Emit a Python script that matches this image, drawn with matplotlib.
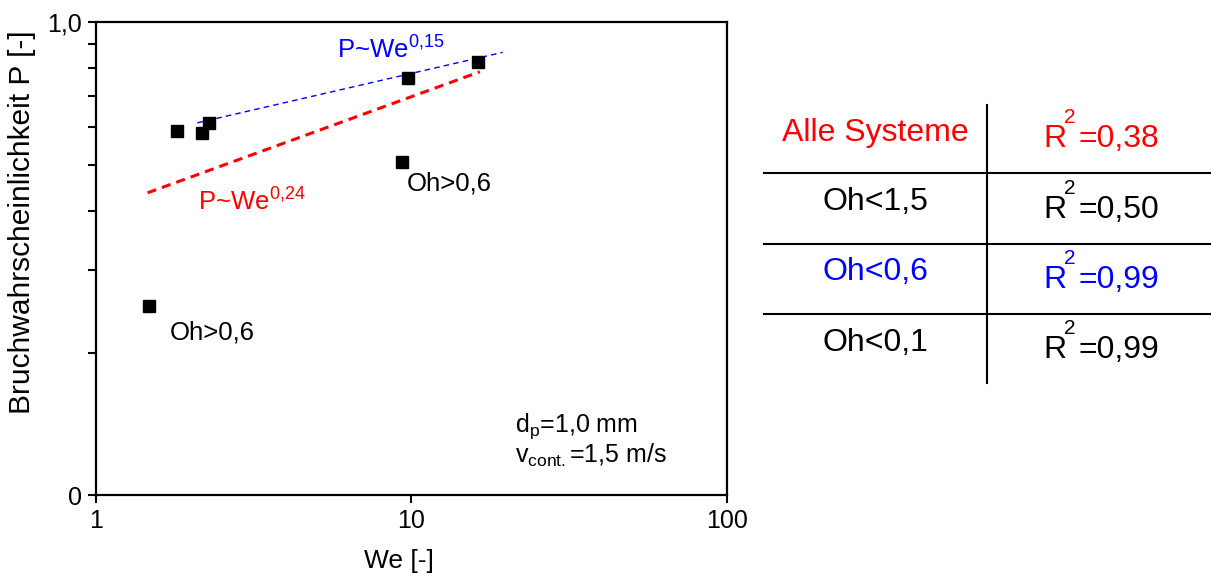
import matplotlib
matplotlib.use("Agg")
import matplotlib.pyplot as plt
from matplotlib.ticker import FixedLocator, FixedFormatter, NullFormatter

plt.rcParams['font.family'] = ['Liberation Sans', 'DejaVu Sans']
plt.rcParams['mathtext.fontset'] = 'custom'
plt.rcParams['mathtext.rm'] = 'Liberation Sans'
plt.rcParams['mathtext.it'] = 'Liberation Sans:italic'
plt.rcParams['mathtext.bf'] = 'Liberation Sans:bold'

# ---- data ----
we_values = [1.48, 1.81, 2.18, 2.29, 9.33, 9.75, 16.3]
p_values = [0.251, 0.589, 0.584, 0.612, 0.506, 0.762, 0.825]

blue_fit_we = [2.10, 19.5]
blue_fit_p = [0.613, 0.864]
red_fit_we = [1.46, 16.5]
red_fit_p = [0.436, 0.786]

x_ticks = [1, 10, 100]
x_ticklabels = ["1", "10", "100"]
y_major = [0.1, 1.0]
y_major_labels = ["0", "1,0"]
y_minor = [0.2, 0.3, 0.4, 0.5, 0.6, 0.7, 0.8, 0.9]

table_labels = ["Alle Systeme", "Oh<1,5", "Oh<0,6", "Oh<0,1"]
table_r2 = ["=0,38", "=0,50", "=0,99", "=0,99"]
table_colors = ["#ff0000", "#000000", "#0000ff", "#000000"]

W, H = 1211, 579
fig = plt.figure(figsize=(W / 100, H / 100), dpi=100)

def fx(px):
    return px / W

def fy(py):
    return 1 - py / H

ax_l, ax_r, ax_t, ax_b = 95.7, 726.7, 22.3, 495.3
ax = fig.add_axes([fx(ax_l), fy(ax_b), (ax_r - ax_l) / W, (ax_b - ax_t) / H])
ax.set_xscale('log')
ax.set_yscale('log')
ax.set_xlim(1, 100)
ax.set_ylim(0.1, 1.0)

ax.plot(blue_fit_we, blue_fit_p, color='#0000ff', lw=1.0, ls=(0, (4, 3)), zorder=2)
ax.plot(red_fit_we, red_fit_p, color='#ff0000', lw=2.2, ls=(0, (3, 2)), zorder=2)
ax.plot(we_values, p_values, ls='none', marker='s', ms=8.5, color='black', zorder=3)

ax.xaxis.set_major_locator(FixedLocator(x_ticks))
ax.xaxis.set_major_formatter(FixedFormatter(x_ticklabels))
ax.xaxis.set_minor_locator(FixedLocator([]))
ax.yaxis.set_major_locator(FixedLocator(y_major))
ax.yaxis.set_major_formatter(FixedFormatter(y_major_labels))
ax.yaxis.set_minor_locator(FixedLocator(y_minor))
ax.yaxis.set_minor_formatter(NullFormatter())

for s in ax.spines.values():
    s.set_linewidth(1.6)
ax.tick_params(axis='both', which='major', direction='out', length=6, width=1.5,
               labelsize=18, pad=4)
ax.tick_params(axis='y', which='minor', direction='out', length=6, width=1.5)

ax.set_xlabel("We [-]", fontsize=19)
ax.set_ylabel("Bruchwahrscheinlichkeit P [-]", fontsize=21.5)
# label placement (axes fraction)
ax.xaxis.set_label_coords((399 - ax_l) / (ax_r - ax_l), -(561 - ax_b) / (ax_b - ax_t))
ax.yaxis.set_label_coords(-(ax_l - 22) / (ax_r - ax_l), (ax_b - 222) / (ax_b - ax_t))
ax.xaxis.label.set_va('center')
ax.yaxis.label.set_va('center')

# annotations in data coordinates
ax.text(5.82, 0.84, r"P~We$^{0{,}15}$", color='#0000ff', fontsize=18.5, va='baseline')
ax.text(2.11, 0.40, r"P~We$^{0{,}24}$", color='#ff0000', fontsize=18.5, va='baseline')
ax.text(9.70, 0.442, "Oh>0,6", color='black', fontsize=18.5, va='baseline')
ax.text(1.72, 0.213, "Oh>0,6", color='black', fontsize=18.5, va='baseline')
ax.text(21.3, 0.136, r"d$_{\mathrm{p}}$=1,0 mm", color='black', fontsize=18, va='baseline')
ax.text(21.3, 0.117, r"v$_{\mathrm{cont.}}$=1,5 m/s", color='black', fontsize=18, va='baseline')

# ---- table on the right ----
fig.add_artist(plt.Line2D([fx(987), fx(987)], [fy(105), fy(383)], color='black', lw=1.5))
for yl in [173, 244, 314]:
    fig.add_artist(plt.Line2D([fx(764), fx(1211)], [fy(yl), fy(yl)], color='black', lw=1.5))

label_base = [141, 210, 280, 351]
r_base = [147, 218, 288, 358]
for lab, r2, col, lb, rb in zip(table_labels, table_r2, table_colors, label_base, r_base):
    fig.text(fx(875), fy(lb), lab, color=col, fontsize=23, ha='center', va='baseline')
    fig.text(fx(1043), fy(rb), "R", color=col, fontsize=23, ha='left', va='baseline')
    fig.text(fx(1064), fy(rb - 24), "2", color=col, fontsize=15, ha='left', va='baseline')
    fig.text(fx(1078), fy(rb), r2, color=col, fontsize=23, ha='left', va='baseline')

fig.savefig("out.png", dpi=100)
